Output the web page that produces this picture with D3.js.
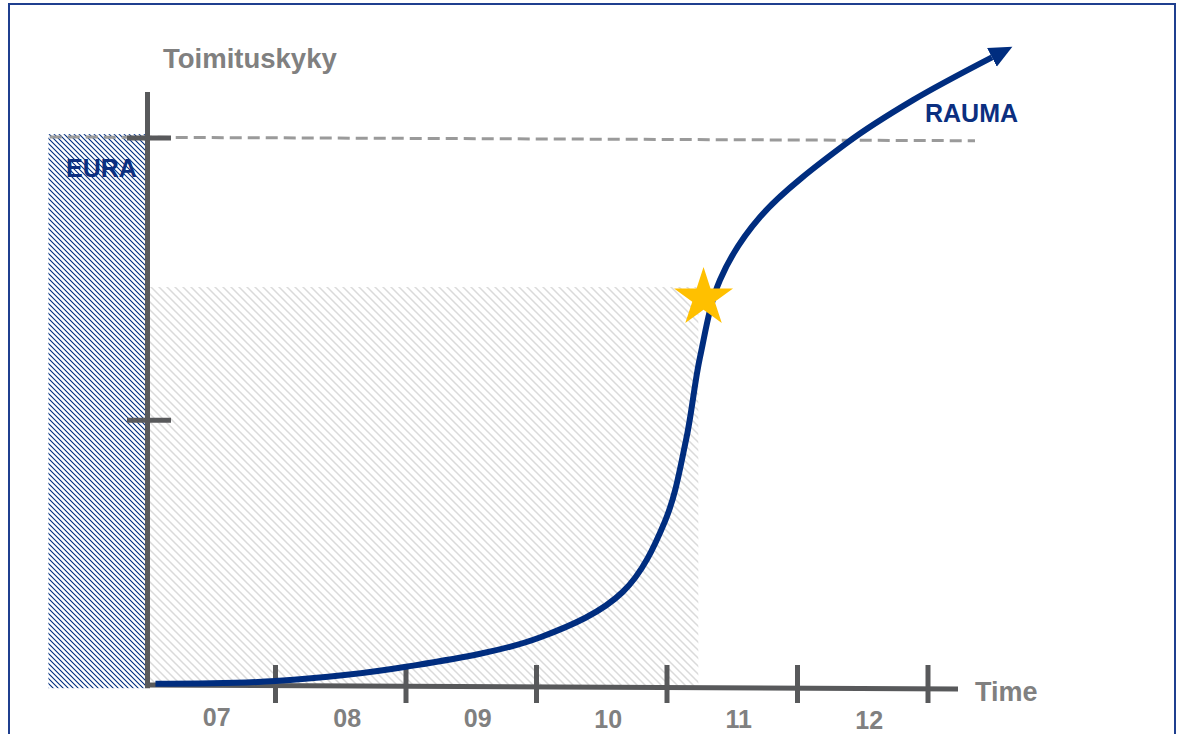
<!DOCTYPE html>
<html>
<head>
<meta charset="utf-8">
<script src="https://cdn.jsdelivr.net/npm/d3@7"></script>
<style>
  html, body { margin: 0; padding: 0; background: #ffffff; }
  svg { display: block; }
  text { font-family: "Liberation Sans", Arial, sans-serif; font-weight: bold; }
</style>
</head>
<body>
<svg id="chart" width="1182" height="734"></svg>
<script>
// ---------- data ----------
const categories = ["07", "08", "09", "10", "11", "12"];
const categoryYears = [2007, 2008, 2009, 2010, 2011, 2012];
const tickYears = [2008, 2009, 2010, 2011, 2012, 2013];
const yTickValues = [48.5, 100];

const curveYears  = [2007.08, 2008.0, 2009.0, 2010.03, 2010.66, 2010.985, 2011.146, 2011.253, 2011.406, 2011.713, 2012.379, 2012.885, 2013.49];
const curveValues = [0.4,     0.9,    3.5,    8.9,     17.15,   30.1,     44.9,     60.0,     74.1,     85.6,     99.1,     106.9,    114.7];

const euraSpan = [2006.26, 2007.0];
const euraTop = 100.7;
const startSpan = [2007.03, 2011.24];
const startTop = 72.8;
const targetYears = [2006.27, 2013.36];
const targetValues = [100.2, 99.5];
const xAxisYears = [2007.0, 2013.23];
const xAxisValues = [0.2, -0.55];
const yAxisRange = [-0.4, 108.4];
const starYear = 2011.28, starValue = 70.8;

const titleY = "Toimituskyky";
const titleX = "Time";
const labelEura = "EURA";
const labelRauma = "RAUMA";

// ---------- drawing ----------
const svg = d3.select("#chart");
const x = d3.scaleLinear().domain([2007, 2013]).range([145, 928]);
const y = d3.scaleLinear().domain([0, 100]).range([686, 138]);

const navy = "#002d7f";
const axisGray = "#58595b";
const textGray = "#808080";

const defs = svg.append("defs");
const pDark = defs.append("pattern").attr("id", "hatchDark")
  .attr("patternUnits", "userSpaceOnUse").attr("width", 5).attr("height", 5);
pDark.append("path").attr("d", "M-1,-1 L6,6 M-1,4 L1,6 M4,-1 L6,1")
  .attr("stroke", navy).attr("stroke-width", 1.1);
const pLight = defs.append("pattern").attr("id", "hatchLight")
  .attr("patternUnits", "userSpaceOnUse").attr("width", 8).attr("height", 8);
pLight.append("path").attr("d", "M-1,-1 L9,9 M-1,7 L1,9 M7,-1 L9,1")
  .attr("stroke", "#dadada").attr("stroke-width", 1.5);

defs.append("marker").attr("id", "arrow")
  .attr("markerUnits", "userSpaceOnUse")
  .attr("viewBox", "0 -12 24 24")
  .attr("refX", 0).attr("refY", 0)
  .attr("markerWidth", 24).attr("markerHeight", 24)
  .attr("orient", "auto")
  .append("path").attr("d", "M0,-10.5 L23,0 L0,10.5 Z").attr("fill", navy);

// frame
svg.append("rect").attr("x", 9).attr("y", 4).attr("width", 1166).attr("height", 760)
  .attr("fill", "none").attr("stroke", "#1f3f8f").attr("stroke-width", 2);

// hatched regions
svg.append("rect")
  .attr("x", x(euraSpan[0])).attr("y", y(euraTop))
  .attr("width", x(euraSpan[1]) - x(euraSpan[0]))
  .attr("height", y(-0.4) - y(euraTop))
  .attr("fill", "url(#hatchDark)");
svg.append("rect")
  .attr("x", x(startSpan[0])).attr("y", y(startTop))
  .attr("width", x(startSpan[1]) - x(startSpan[0]))
  .attr("height", y(0) - y(startTop))
  .attr("fill", "url(#hatchLight)");

// dashed target line
svg.append("line")
  .attr("x1", x(targetYears[0])).attr("y1", y(targetValues[0]))
  .attr("x2", x(targetYears[1])).attr("y2", y(targetValues[1]))
  .attr("stroke", "#9a9a9a").attr("stroke-width", 3).attr("stroke-dasharray", "12 6");

// y axis
svg.append("line")
  .attr("x1", x(2007) + 2.5).attr("x2", x(2007) + 2.5)
  .attr("y1", y(yAxisRange[1])).attr("y2", y(yAxisRange[0]))
  .attr("stroke", axisGray).attr("stroke-width", 5);
svg.selectAll(".ytick").data(yTickValues).enter().append("line")
  .attr("x1", x(2007) - 18).attr("x2", x(2007) + 26)
  .attr("y1", d => y(d)).attr("y2", d => y(d))
  .attr("stroke", axisGray).attr("stroke-width", 5);

// x axis
svg.append("line")
  .attr("x1", x(xAxisYears[0])).attr("y1", y(xAxisValues[0]))
  .attr("x2", x(xAxisYears[1])).attr("y2", y(xAxisValues[1]))
  .attr("stroke", axisGray).attr("stroke-width", 5);
svg.selectAll(".xtick").data(tickYears).enter().append("line")
  .attr("x1", d => x(d)).attr("x2", d => x(d))
  .attr("y1", y(0) - 21).attr("y2", y(0) + 17)
  .attr("stroke", axisGray).attr("stroke-width", 5);

svg.selectAll(".xlabel").data(categories).enter().append("text")
  .attr("x", (d, i) => x(categoryYears[i] + 0.55))
  .attr("y", (d, i) => 726 + i * 0.6)
  .attr("text-anchor", "middle")
  .attr("font-size", 25).attr("fill", textGray)
  .text(d => d);

// curve
const pts = curveYears.map((d, i) => [x(d), y(curveValues[i])]);
svg.append("path")
  .attr("d", d3.line().curve(d3.curveCatmullRom.alpha(0.5))(pts))
  .attr("fill", "none").attr("stroke", navy).attr("stroke-width", 6)
  .attr("marker-end", "url(#arrow)");

// star
svg.append("path")
  .attr("transform", `translate(${x(starYear)},${y(starValue)})`)
  .attr("d", d3.symbol().type(d3.symbolStar).size(1080)())
  .attr("fill", "#ffc000");

// labels
svg.append("text").attr("x", 163).attr("y", 68)
  .attr("font-size", 27.5).attr("fill", textGray).text(titleY);
svg.append("text").attr("x", 975).attr("y", 701)
  .attr("font-size", 27).attr("fill", textGray).text(titleX);
svg.append("text").attr("x", 66).attr("y", 177)
  .attr("font-size", 25).attr("fill", "#0b2f80").text(labelEura);
svg.append("text").attr("x", 925).attr("y", 122)
  .attr("font-size", 25).attr("fill", "#0b2f80").text(labelRauma);
</script>
</body>
</html>
